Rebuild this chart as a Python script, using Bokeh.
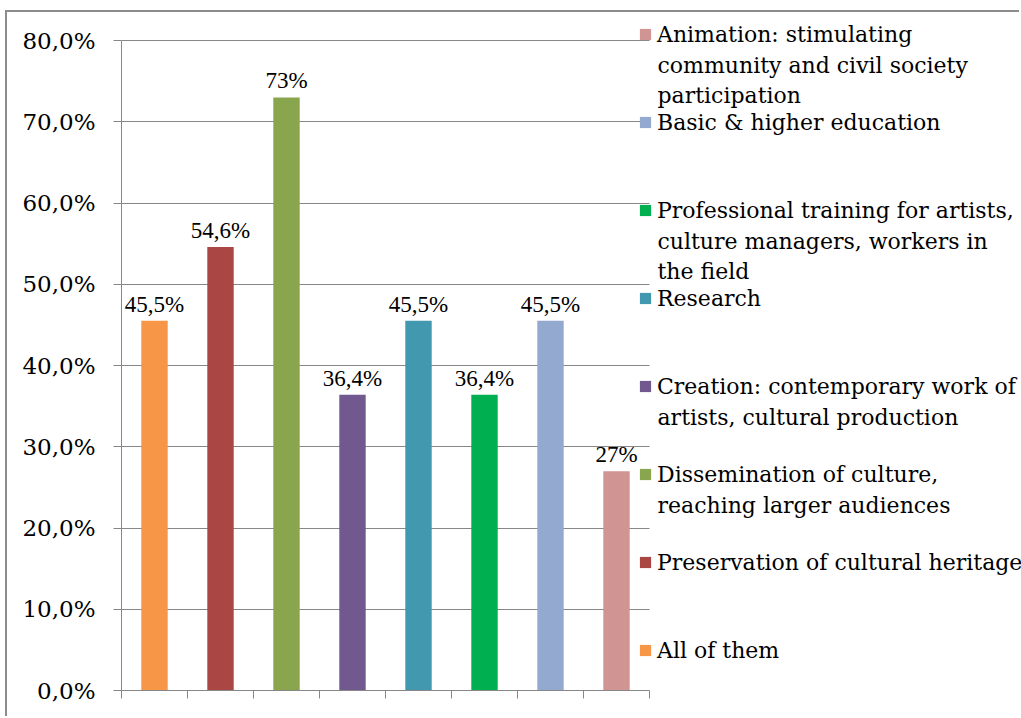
from bokeh.plotting import figure
from bokeh.models import (ColumnDataSource, Range1d, FixedTicker, LabelSet, Label,
                          Legend, LegendItem)
from bokeh.embed import file_html
from bokeh.resources import INLINE

# ---- data -------------------------------------------------------------
categories = [
    "All of them",
    "Preservation of cultural heritage",
    "Dissemination of culture, reaching larger audiences",
    "Creation: contemporary work of artists, cultural production",
    "Research",
    "Professional training for artists, culture managers, workers in the field",
    "Basic & higher education",
    "Animation: stimulating community and civil society participation",
]
shares = [45.5, 54.6, 73.0, 36.4, 45.5, 36.4, 45.5, 27.0]
value_labels = ["45,5%", "54,6%", "73%", "36,4%", "45,5%", "36,4%", "45,5%", "27%"]
colors = ["#F79646", "#AA4643", "#89A54E", "#71588F",
          "#4198AF", "#00B050", "#93A9CF", "#D09493"]

# legend text, wrapped the way it is printed
legend_lines = [
    ["All of them"],
    ["Preservation of cultural heritage"],
    ["Dissemination of culture,", "reaching larger audiences"],
    ["Creation: contemporary work of", "artists, cultural production"],
    ["Research"],
    ["Professional training for artists,", "culture managers, workers in", "the field"],
    ["Basic & higher education"],
    ["Animation: stimulating", "community and civil society", "participation"],
]

y_ticks = [0, 10, 20, 30, 40, 50, 60, 70, 80]
y_tick_labels = ["0,0%", "10,0%", "20,0%", "30,0%", "40,0%",
                 "50,0%", "60,0%", "70,0%", "80,0%"]
Y_TOP = 80

# ---- styling / layout -------------------------------------------------
FONT = "DejaVu Serif"
LEGEND_SIZE = "22px"
NUM_SIZE = "23px"
GRAY = "#878787"
BORDER = "#8C8C8C"

# the chart sits inside a frame whose top/left edges are visible
OFF_X, OFF_Y = 7, 12
W, H = 1021 - OFF_X, 718 - OFF_Y
AXIS_LEFT = 114          # y axis position on the canvas
AXIS_BOTTOM = 28         # room under the x axis
PLOT_W, PLOT_H = 528, 650  # extent of the bar area
FRAME_W = W - AXIS_LEFT
FRAME_H = H - AXIS_BOTTOM
n = len(categories)

src = ColumnDataSource(dict(
    x=[i + 0.5 for i in range(n)],
    top=shares,
    color=colors,
    label=value_labels,
    name=categories,
))

p = figure(width=W, height=H, output_backend="svg", toolbar_location=None,
           x_range=Range1d(0, n * FRAME_W / PLOT_W),
           y_range=Range1d(0, Y_TOP * FRAME_H / PLOT_H),
           min_border_left=AXIS_LEFT, min_border_right=0,
           min_border_top=0, min_border_bottom=AXIS_BOTTOM,
           margin=(OFF_Y - 2, 0, 0, OFF_X - 2),
           styles={"border-top": f"2px solid {BORDER}",
                   "border-left": f"2px solid {BORDER}"})
p.outline_line_color = None
p.background_fill_color = "white"
p.border_fill_color = "white"

bars = p.vbar(x="x", top="top", width=0.4, source=src,
              fill_color="color", line_color=None)

# y axis
p.yaxis.bounds = (0, Y_TOP)
p.yaxis.ticker = FixedTicker(ticks=y_ticks)
p.yaxis.major_label_overrides = {t: s for t, s in zip(y_ticks, y_tick_labels)}
p.yaxis.major_label_text_font = FONT
p.yaxis.major_label_text_font_size = NUM_SIZE
p.yaxis.major_label_text_color = "black"
p.yaxis.major_label_standoff = 18
p.yaxis.major_tick_out = 8
p.yaxis.major_tick_in = 0
p.yaxis.minor_tick_line_color = None
p.yaxis.axis_line_color = GRAY
p.yaxis.major_tick_line_color = GRAY

# x axis: only category separators, no labels
p.xaxis.bounds = (0, n)
p.xaxis.ticker = FixedTicker(ticks=list(range(n + 1)))
p.xaxis.major_label_overrides = {i: "" for i in range(n + 1)}
p.xaxis.major_tick_out = 8
p.xaxis.major_tick_in = 0
p.xaxis.minor_tick_line_color = None
p.xaxis.axis_line_color = GRAY
p.xaxis.major_tick_line_color = GRAY

p.xgrid.grid_line_color = None
p.ygrid.ticker = FixedTicker(ticks=y_ticks)
p.ygrid.cross_bounds = (0, n)
p.ygrid.grid_line_color = GRAY
p.ygrid.grid_line_alpha = 1.0

# value labels above bars
p.add_layout(LabelSet(x="x", y="top", text="label", source=src,
                      text_align="center", text_baseline="alphabetic",
                      y_offset=9, text_font=FONT, text_font_size=NUM_SIZE,
                      text_color="black"))

# ---- legend -----------------------------------------------------------
PITCH = 88          # distance between legend entries
LINE_PITCH = 30.5   # distance between wrapped lines
FIRST_CENTER = 656  # first entry centre, above the frame bottom
ITEM_H = 30
SWATCH_X = 517      # from the y axis
TEXT_X = SWATCH_X + 14 + 5

order = list(reversed(range(n)))
items = [LegendItem(label=legend_lines[i][0], renderers=[bars], index=i) for i in order]
last_center = FIRST_CENTER - PITCH * (n - 1)
legend = Legend(items=items, location=(SWATCH_X, last_center - ITEM_H / 2),
                orientation="vertical", glyph_width=14, glyph_height=14,
                label_standoff=5, label_height=ITEM_H, spacing=PITCH - ITEM_H,
                padding=0, margin=0, border_line_color=None,
                background_fill_alpha=0, label_text_font=FONT,
                label_text_font_size=LEGEND_SIZE, label_text_color="black")
p.add_layout(legend)

for k, i in enumerate(order):
    for j, line in enumerate(legend_lines[i][1:], start=1):
        cy = FIRST_CENTER - PITCH * k - LINE_PITCH * j
        p.add_layout(Label(x=TEXT_X, y=cy, x_units="screen", y_units="screen",
                           text=line, text_font=FONT, text_font_size=LEGEND_SIZE,
                           text_baseline="middle", text_align="left",
                           text_color="black"))

open("out.html", "w").write(file_html(p, INLINE))
